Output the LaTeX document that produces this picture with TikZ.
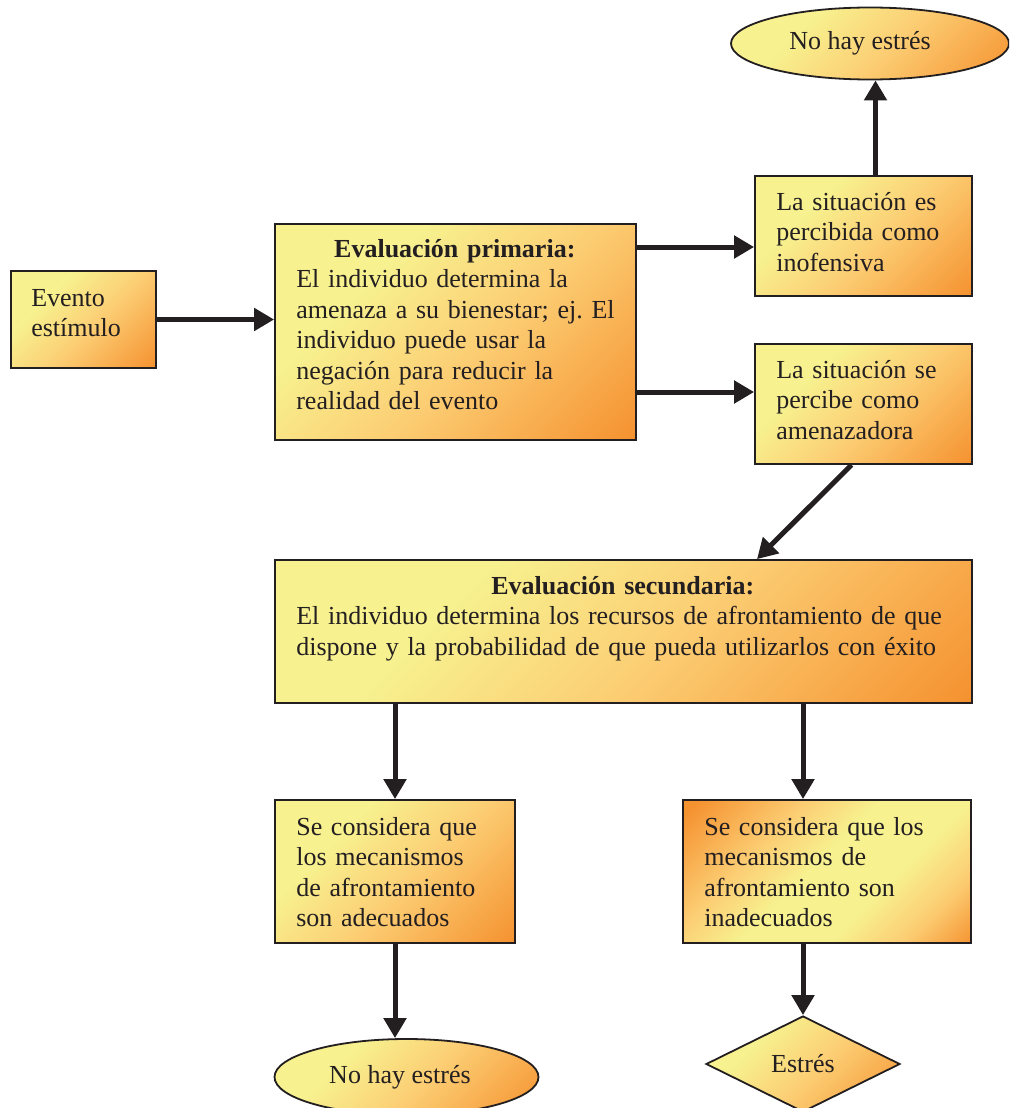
\documentclass[tikz,border=0pt]{standalone}
\usepackage{fontspec}
\setmainfont{Liberation Serif}
\usetikzlibrary{shapes.geometric,arrows.meta,calc}
\definecolor{ylw}{RGB}{247,241,143}
\definecolor{midc}{RGB}{252,205,115}
\definecolor{org}{RGB}{245,146,48}
\definecolor{ink}{RGB}{35,31,32}
\pgfdeclarehorizontalshading{yo}{100bp}{color(0bp)=(ylw); color(33bp)=(ylw); color(55bp)=(midc); color(85bp)=(org); color(100bp)=(org)}
\pgfdeclarehorizontalshading{oyo}{100bp}{color(0bp)=(org); color(17bp)=(org); color(35bp)=(midc); color(47bp)=(ylw); color(62bp)=(ylw); color(74bp)=(midc); color(86bp)=(org); color(100bp)=(org)}
\begin{document}
\begin{tikzpicture}[x=1pt,y=-1pt,
  font=\fontsize{26}{30.5}\selectfont,
  box/.style={draw=ink, line width=1.8pt, shade, shading=yo, shading angle=-45, inner sep=0pt},
  txt/.style={align=left, inner sep=0pt, anchor=base west, text=ink},
  arr/.style={draw=ink, line width=5pt, -{Triangle[length=20pt,width=22pt]}}]
\useasboundingbox (0,0) rectangle (1009,1108);
\clip (0,0) rectangle (1009,1108);

% boxes
\node[box, minimum width=145pt, minimum height=97pt] (evt) at (83.5,319.5) {};
\node[box, minimum width=361pt, minimum height=216pt] (prim) at (455.5,332) {};
\node[box, minimum width=217pt, minimum height=120pt] (inof) at (863.5,236) {};
\node[box, minimum width=217pt, minimum height=120pt] (amen) at (863.5,404) {};
\node[box, minimum width=697pt, minimum height=143pt] (sec) at (623.5,631.5) {};
\node[box, minimum width=240pt, minimum height=143pt] (adec) at (395,871.5) {};
\node[box, shading=oyo, minimum width=288pt, minimum height=143pt] (inad) at (827,871.5) {};
\node[box, ellipse, minimum width=278pt, minimum height=72pt, text=ink] (topell) at (870,43.5) {No hay estrés\rule{20pt}{0pt}};
\node[box, ellipse, minimum width=264pt, minimum height=76pt, text=ink] (botell) at (406.5,1077) {No hay estrés\rule{13pt}{0pt}};
\node[box, diamond, aspect=2, minimum width=194pt, minimum height=96pt, text=ink] (diam) at (803,1064) {Estrés};

% texts
\node[txt, text width=140pt] (evtT) at ([xshift=21pt]evt.west |- 0,306) {Evento\\estímulo};
\node[txt, text width=380pt] (primT) at ([xshift=22pt]prim.west |- 0,257)
  {\makebox[317pt]{\textbf{Evaluación primaria:}}\\El individuo determina la\\amenaza a su bienestar; ej.\ El\\individuo puede usar la\\negación para reducir la\\realidad del evento};
\node[txt, text width=220pt] (inofT) at ([xshift=22pt]inof.west |- 0,210) {La situación es\\percibida como\\inofensiva};
\node[txt, text width=220pt] (amenT) at ([xshift=22pt]amen.west |- 0,378) {La situación se\\percibe como\\amenazadora};
\node[txt, text width=720pt] (secT) at ([xshift=22pt]sec.west |- 0,594)
  {\makebox[653pt]{\textbf{Evaluación secundaria:}}\\El individuo determina los recursos de afrontamiento de que\\dispone y la probabilidad de que pueda utilizarlos con éxito};
\node[txt, text width=240pt] (adecT) at ([xshift=22pt]adec.west |- 0,835) {Se considera que\\los mecanismos\\de afrontamiento\\son adecuados};
\node[txt, text width=280pt] (inadT) at ([xshift=22pt]inad.west |- 0,835) {Se considera que los\\mecanismos de\\afrontamiento son\\inadecuados};

% connectors
\coordinate (a1) at ($(inof.west)+(0,11)$);
\coordinate (a2) at ($(amen.west)+(0,-12)$);
\coordinate (a3) at ($(inof.north)+(12,0)$);
\coordinate (a4) at ($(amen.south)+(-12,0)$);
\coordinate (a5) at ($(sec.north)+(133.5,0)$);
\draw[arr] (evt.east) -- (evt.east -| prim.west);
\draw[arr] (a1 -| prim.east) -- (a1);
\draw[arr] (a2 -| prim.east) -- (a2);
\draw[arr] (a3) -- (a3 |- topell.south);
\draw[arr] (a4) -- (a5);
\draw[arr] (adec.north |- sec.south) -- (adec.north);
\draw[arr] (diam.north |- sec.south) -- (diam.north |- inad.north);
\draw[arr] (adec.south) -- (adec.south |- botell.north);
\draw[arr] (diam.north |- inad.south) -- (diam.north);
\end{tikzpicture}
\end{document}
